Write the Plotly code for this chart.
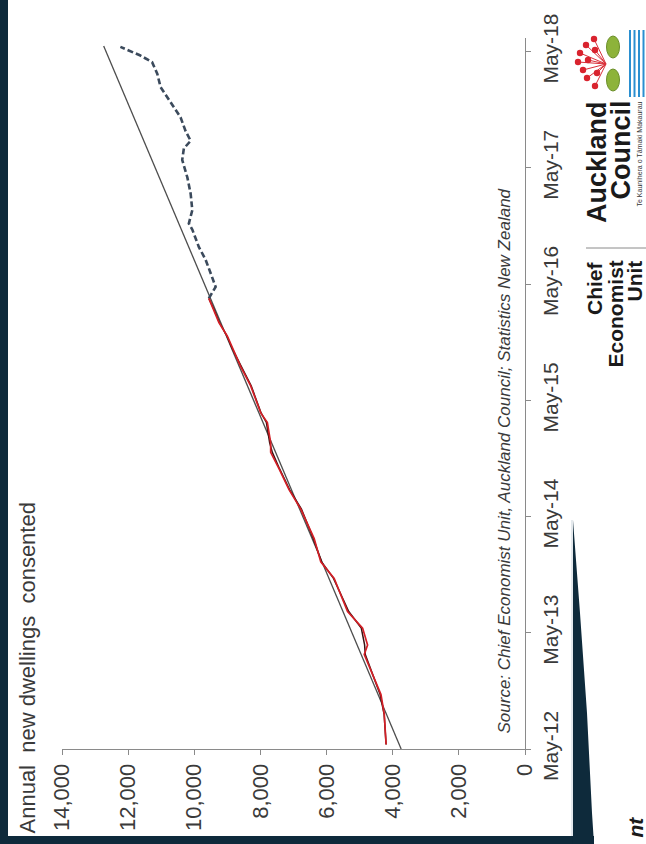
import plotly.graph_objects as go

# ---------------- data ----------------
value_ticks = [0, 2000, 4000, 6000, 8000, 10000, 12000, 14000]
date_ticks = ["2012-05-01", "2013-05-01", "2014-05-01", "2015-05-01",
              "2016-05-01", "2017-05-01", "2018-05-01"]
date_tick_labels = ["May-12", "May-13", "May-14", "May-15", "May-16", "May-17", "May-18"]

actual_dates = ["2012-05-15", "2012-08-18", "2012-10-19", "2012-12-11", "2013-02-22",
                "2013-03-24", "2013-05-16", "2013-07-07", "2013-09-19", "2013-10-19",
                "2013-12-10", "2014-02-21", "2014-05-25", "2014-07-25", "2014-09-28",
                "2014-11-19", "2014-12-19", "2015-02-21", "2015-03-23", "2015-06-16",
                "2015-08-16", "2015-10-13", "2015-11-19", "2016-01-01", "2016-02-10",
                "2016-03-17"]
red_values = [4200, 4255, 4355, 4560, 4860, 4760, 4910, 5365, 5665, 5770,
              6175, 6375, 6780, 7135, 7435, 7690, 7690, 7790, 7990, 8295,
              8600, 8850, 9000, 9255, 9405, 9560]
dark_values = [4200, 4260, 4380, 4560, 4830, 4850, 4950, 5330, 5640, 5790,
               6150, 6400, 6760, 7120, 7420, 7640, 7720, 7820, 7980, 8280,
               8580, 8860, 9010, 9240, 9400, 9560]

forecast_dates = ["2016-03-17", "2016-04-22", "2016-06-04", "2016-07-17", "2016-08-25",
                  "2016-10-19", "2016-11-07", "2016-12-19", "2017-02-09", "2017-04-01",
                  "2017-05-26", "2017-07-01", "2017-07-25", "2017-08-25", "2017-10-07",
                  "2017-11-25", "2018-01-10", "2018-02-21", "2018-03-29", "2018-04-19",
                  "2018-05-16"]
forecast_values = [9560, 9355, 9505, 9660, 9860, 10060, 10165, 10060, 10110, 10210,
                   10365, 10315, 10110, 10265, 10415, 10720, 11020, 11120, 11275, 11630,
                   12235]

trend_dates = ["2012-05-01", "2018-05-19"]
trend_values = [3745, 12740]

title_text = "Annual  new dwellings  consented"
source_text = "Source: Chief Economist Unit, Auckland Council; Statistics New Zealand"

# ---------------- layout helpers (pixel -> paper) ----------------
W, H = 646, 844
L, R, T, B = 62, 525, 38, 749


def px(x):
    return (x - L) / (R - L)


def py(y):
    return (B - y) / (B - T)


FONT = "Liberation Sans, Arial, sans-serif"
NAVY = "#0e2a3b"

fig = go.Figure()
fig.add_trace(go.Scatter(x=trend_values, y=trend_dates, mode="lines",
                         line=dict(color="#4d4d4d", width=1.3), showlegend=False))
fig.add_trace(go.Scatter(x=forecast_values, y=forecast_dates, mode="lines",
                         line=dict(color="#3b4a5c", width=2.6, dash="6px,3px"),
                         showlegend=False))
fig.add_trace(go.Scatter(x=dark_values, y=actual_dates, mode="lines",
                         line=dict(color="#3a1212", width=1.5), showlegend=False))
fig.add_trace(go.Scatter(x=red_values, y=actual_dates, mode="lines",
                         line=dict(color="#d41f26", width=1.7), showlegend=False))

fig.update_layout(
    width=W, height=H,
    template="none",
    margin=dict(l=L, r=W - R, t=T, b=H - B, pad=0),
    paper_bgcolor="white", plot_bgcolor="white",
    showlegend=False,
    font=dict(family=FONT, color="#3a3a3a"),
    xaxis=dict(range=[14000, 0], tickvals=value_ticks, tickformat=",",
               tickangle=-90, ticks="outside", ticklen=5, tickcolor="#8a8a8a",
               showline=True, linecolor="#8a8a8a", linewidth=1,
               showgrid=False, zeroline=False, automargin=False,
               tickfont=dict(size=22, color="#3a3a3a"), ticklabelstandoff=0),
    yaxis=dict(type="date", range=["2012-05-01", "2018-06-13"], side="right",
               tickvals=date_ticks, ticktext=date_tick_labels,
               tickangle=-90, ticks="outside", ticklen=5, tickcolor="#8a8a8a",
               showline=True, linecolor="#8a8a8a", linewidth=1,
               showgrid=False, zeroline=False, automargin=False,
               tickfont=dict(size=21, color="#3a3a3a"), ticklabelstandoff=2),
)

annotations = [
    dict(text=title_text, x=px(27), y=py(836), xref="paper", yref="paper",
         xanchor="center", yanchor="bottom", textangle=-90, showarrow=False,
         font=dict(size=22, color="#3a3a3a", family=FONT)),
    dict(text="<i>" + source_text + "</i>", x=px(504), y=py(736), xref="paper", yref="paper",
         xanchor="center", yanchor="bottom", textangle=-90, showarrow=False,
         font=dict(size=17, color="#3a3a3a", family=FONT)),
    dict(text="<b>Auckland</b>", x=px(597), y=py(99), xref="paper", yref="paper",
         xanchor="center", yanchor="top", textangle=-90, showarrow=False,
         font=dict(size=27, color="#1a1a1a", family=FONT)),
    dict(text="<b>Council</b>", x=px(620), y=py(99), xref="paper", yref="paper",
         xanchor="center", yanchor="top", textangle=-90, showarrow=False,
         font=dict(size=27, color="#1a1a1a", family=FONT)),
    dict(text="Te Kaunihera o Tāmaki Makaurau", x=px(639), y=py(100), xref="paper", yref="paper",
         xanchor="center", yanchor="top", textangle=-90, showarrow=False,
         font=dict(size=7, color="#333333", family=FONT)),
    dict(text="<b>Chief</b>", x=px(594), y=py(259), xref="paper", yref="paper",
         xanchor="center", yanchor="top", textangle=-90, showarrow=False,
         font=dict(size=21, color="#1a1a1a", family=FONT)),
    dict(text="<b>Economist</b>", x=px(615), y=py(259), xref="paper", yref="paper",
         xanchor="center", yanchor="top", textangle=-90, showarrow=False,
         font=dict(size=21, color="#1a1a1a", family=FONT)),
    dict(text="<b>Unit</b>", x=px(634), y=py(259), xref="paper", yref="paper",
         xanchor="center", yanchor="top", textangle=-90, showarrow=False,
         font=dict(size=21, color="#1a1a1a", family=FONT)),
    dict(text="<b><i>nt</i></b>", x=px(635), y=py(815), xref="paper", yref="paper",
         xanchor="center", yanchor="top", textangle=-90, showarrow=False,
         font=dict(size=21, color="#1a1a1a", family=FONT)),
]
fig.update_layout(annotations=annotations)

shapes = []
# navy slide frame
shapes.append(dict(type="rect", xref="paper", yref="paper", x0=px(0), x1=px(8), y0=py(0), y1=py(844),
                   fillcolor=NAVY, line=dict(width=0), layer="above"))
shapes.append(dict(type="rect", xref="paper", yref="paper", x0=px(0), x1=px(594), y0=py(836), y1=py(844),
                   fillcolor=NAVY, line=dict(width=0), layer="above"))
wedge = [(573, 520), (573, 844), (594, 844), (592, 813), (587, 713), (580, 613), (576, 560)]
path = "M " + " L ".join(f"{px(a):.5f} {py(b):.5f}" for a, b in wedge) + " Z"
shapes.append(dict(type="path", xref="paper", yref="paper", path=path,
                   fillcolor=NAVY, line=dict(width=0), layer="above"))
# panel edge
shapes.append(dict(type="line", xref="paper", yref="paper", x0=px(572), x1=px(572), y0=py(520), y1=py(836),
                   line=dict(color="#c9d3db", width=1)))
# logo separator
shapes.append(dict(type="line", xref="paper", yref="paper", x0=px(586), x1=px(646), y0=py(248), y1=py(248),
                   line=dict(color="#8a8a8a", width=1)))
# flower logo
cx, cy = 606, 64
dots = [(578, 62), (580, 53), (586, 45), (594, 39), (583, 70), (587, 78), (595, 86),
        (588, 60), (595, 50), (597, 73)]
for (dx, dy) in dots:
    shapes.append(dict(type="line", xref="paper", yref="paper", x0=px(cx), y0=py(cy), x1=px(dx), y1=py(dy),
                       line=dict(color="#d9303a", width=1)))
for (dx, dy) in dots:
    shapes.append(dict(type="circle", xref="paper", yref="paper", x0=px(dx - 3.2), x1=px(dx + 3.2),
                       y0=py(dy - 3.2), y1=py(dy + 3.2), fillcolor="#d9232e", line=dict(width=0)))
for (lx, ly) in [(613, 47), (613, 80)]:
    shapes.append(dict(type="circle", xref="paper", yref="paper", x0=px(lx - 6.5), x1=px(lx + 6.5),
                       y0=py(ly - 11), y1=py(ly + 11), fillcolor="#8db33a", line=dict(color="#6b8f2a", width=1)))
for wx in [630, 634.5, 639, 643.5]:
    shapes.append(dict(type="line", xref="paper", yref="paper", x0=px(wx), x1=px(wx), y0=py(30), y1=py(97),
                       line=dict(color="#2a8fd0", width=2)))
fig.update_layout(shapes=shapes)

fig.write_html("out.html",
               config={"displayModeBar": False},
               post_script="document.body.style.margin='0';document.body.style.overflow='hidden';")
